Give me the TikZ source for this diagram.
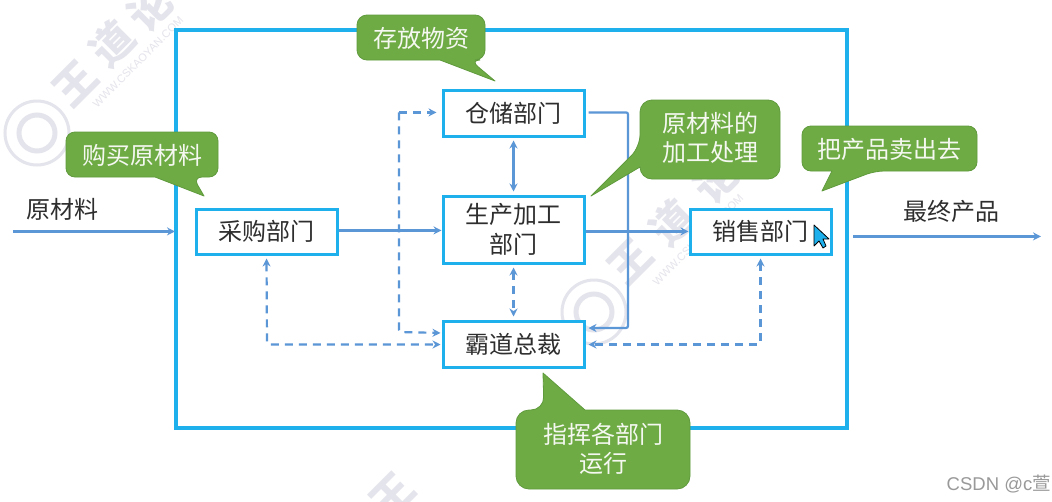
\documentclass[tikz,border=0pt]{standalone}
\usepackage{fontspec}
\setmainfont{Noto Sans CJK SC}
\newfontfamily\latinwm{Liberation Sans}
\newfontfamily\cjkcredit{Noto Sans CJK SC}
\usetikzlibrary{arrows.meta,calc}
\definecolor{frameblue}{HTML}{1DB0EC}
\definecolor{linkblue}{HTML}{5B96D6}
\definecolor{calloutgreen}{HTML}{6FAB45}
\definecolor{calloutedge}{HTML}{5F9A3C}
\definecolor{inktext}{HTML}{2E2E2E}
\definecolor{wmgrey}{HTML}{E4E4EC}
\tikzset{
  x=1pt,y=-1pt,
  dept/.style={draw=frameblue,line width=3pt,fill=white,inner sep=0pt,align=center,font=\fontsize{24}{30}\selectfont,text=inktext},
  plainlabel/.style={inner sep=0pt,font=\fontsize{24}{30}\selectfont,text=inktext},
  calloutbody/.style={fill=calloutgreen,draw=calloutedge,line width=0.8pt,line join=round},
  callouttext/.style={inner sep=0pt,align=center,text=white!92!calloutgreen,font=\fontsize{24}{29}\selectfont},
  link/.style={draw=linkblue,line width=2.2pt,rounded corners=2pt},
  dashlink/.style={link,dash pattern=on 8pt off 6pt},
  endarrow/.style={arrows={-Stealth[length=8pt,width=8pt]}},
  botharrows/.style={arrows={Stealth[length=8pt,width=8pt]-Stealth[length=8pt,width=8pt]}},
  wmark/.style={inner sep=0pt,text=wmgrey,rotate=45,font=\fontsize{42}{42}\selectfont\bfseries},
  wmurl/.style={inner sep=0pt,text=wmgrey,rotate=-45,font=\fontsize{11}{11}\latinwm},
  wmseal/.style={draw=wmgrey,circle,inner sep=0pt},
}
\begin{document}
\begin{tikzpicture}
\useasboundingbox (0,0) rectangle (1052,501);
\fill[white] (0,0) rectangle (1052,501);

% watermarks
\node[wmseal,minimum size=64pt,line width=3pt] (sealA) at (37,133) {};
\node[wmseal,minimum size=36pt,line width=5pt] (sealAi) at (37,133) {};
\node[wmark] (wa1) at (75,84) {王};
\node[wmark] (wa2) at (112,43) {道};
\node[wmark] (wa3) at (150,8) {论};
\node[wmurl,rotate=90] (wa4) at (138,62) {WWW.CSKAOYAN.COM};
\node[wmseal,minimum size=64pt,line width=3pt] (sealB) at (594,312) {};
\node[wmseal,minimum size=36pt,line width=5pt] (sealBi) at (594,312) {};
\node[wmark] (wb1) at (630,262) {王};
\node[wmark] (wb2) at (672,222) {道};
\node[wmark] (wb3) at (716,180) {论};
\node[wmurl,rotate=90] (wb4) at (698,240) {WWW.CSKAOYAN.COM};
\node[wmark] (wc1) at (392,496) {王};

% frame
\node[draw=frameblue,line width=3.2pt,minimum width=671pt,minimum height=398pt,inner sep=0pt] (frame) at (511.5,229) {};

% departments
\node[dept,minimum width=141pt,minimum height=45pt] (buy) at (266.5,231.5) {采购部门};
\node[dept,minimum width=141pt,minimum height=46pt] (store) at (513.5,113) {仓储部门};
\node[dept,minimum width=141pt,minimum height=67pt] (make) at (513.5,229.5) {生产加工\\部门};
\node[dept,minimum width=141pt,minimum height=46pt] (boss) at (513.5,344) {霸道总裁};
\node[dept,minimum width=141pt,minimum height=45pt] (sell) at (760.5,231.5) {销售部门};

% free labels
\node[plainlabel] (rawlabel) at (62,209) {原材料};
\node[plainlabel] (finallabel) at (951,211) {最终产品};

% free ends and bends
\coordinate (rawstart) at (13,231.4);
\coordinate (rawend) at (175,231.4);
\coordinate (outstart) at (853,236.4);
\coordinate (outend) at (1041,236.4);
\coordinate (storeout) at ($(store.east)+(3,-0.6)$);
\coordinate (bossin) at ($(boss.east)+(3,-16)$);
\coordinate (leftbus) at (399,112.4);

% solid links
\draw[link,endarrow] (rawstart) -- (rawend);
\draw[link,endarrow] (buy.east |- 0,230.4) -- (make.west |- 0,230.4);
\draw[link,endarrow] (make.east |- 0,231.4) -- (sell.west |- 0,231.4);
\draw[link,endarrow] (outstart) -- (outend);
\draw[link,endarrow] (storeout) -- (628,112.4) -- (628,328) -- (bossin);
\draw[link,botharrows,shorten <=3pt,shorten >=3pt] (store.south) -- (make.north);

% dashed links
\draw[dashlink,botharrows,shorten <=3pt,shorten >=3pt] (make.south) -- (boss.north);
\draw[dashlink,endarrow,shorten >=5pt] (leftbus) -- (store.west |- leftbus);
\draw[dashlink,endarrow,shorten >=1pt] (leftbus) -- (399,332) -- (boss.west |- 0,333);
\draw[dashlink,botharrows,shorten <=3pt,shorten >=1pt] (buy.south) -- (267,344.5) -- (boss.west |- 0,344.5);
\draw[dashlink,botharrows,shorten <=3pt,shorten >=3pt] (sell.south) -- (760.5,344.5) -- (boss.east |- 0,344.5);

% cursor
\fill[draw=black,line width=0.8pt,fill=frameblue,line join=round]
  (814,225) -- (814,246) -- (819,241) -- (823,248) -- (826,246) -- (823,239) -- (829,239) -- cycle;

% callouts
\path[calloutbody] (495,81) -- (440,60) [rounded corners=10pt] -- (357,60) -- (357,15) -- (485,15) -- (485,60) -- (470,60) [sharp corners] -- cycle;
\node[callouttext] (c1) at (421,38.5) {存放物资};

\path[calloutbody] (204,196) -- (155,177) [rounded corners=9pt] -- (66,177) -- (66,132) -- (218,132) -- (218,177) -- (193,177) [sharp corners] -- cycle;
\node[callouttext] (c2) at (142,155) {购买原材料};

\path[calloutbody] (591,196) -- (640,167) [rounded corners=12pt] -- (640,179) -- (780,179) -- (780,100) -- (640,100) -- (640,147) [sharp corners] -- cycle;
\node[callouttext] (c3) at (710,138) {原材料的\\加工处理};

\path[calloutbody] (822,191) -- (832,171) [rounded corners=9pt] -- (802,171) -- (802,126) -- (977,126) -- (977,171) -- (875,171) [sharp corners] -- cycle;
\node[callouttext] (c4) at (889,149) {把产品卖出去};

\path[calloutbody] (543,373) -- (585,410) [rounded corners=13pt] -- (690,410) -- (690,489) -- (516,489) -- (516,410) -- (544,410) [sharp corners] -- cycle;
\node[callouttext] (c5) at (603,449) {指挥各部门\\运行};

% credit
\node[inner sep=0pt,anchor=east,text=black!40,font=\fontsize{18.5}{18.5}\latinwm] (credit) at (1051,484) {CSDN @c{\cjkcredit 萱}};
\end{tikzpicture}
\end{document}
